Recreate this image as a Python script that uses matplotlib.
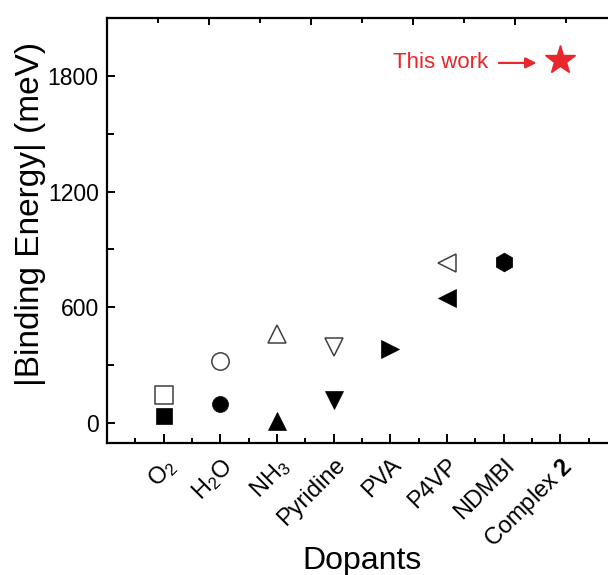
import matplotlib
matplotlib.use("Agg")
import matplotlib.pyplot as plt
from matplotlib import font_manager
from matplotlib.ticker import MultipleLocator, FixedLocator, NullFormatter

# Polices : Arial-like, version étroite pour les graduations si disponible
noms = {f.name for f in font_manager.fontManager.ttflist}
police = 'Liberation Sans'
etroite = 'Liberation Sans Narrow' in noms
police_etroite = 'Liberation Sans Narrow' if etroite else police
plt.rcParams['font.family'] = [police, 'DejaVu Sans']
plt.rcParams['mathtext.fontset'] = 'custom'
plt.rcParams['mathtext.rm'] = police
plt.rcParams['mathtext.it'] = police + ':italic'
plt.rcParams['mathtext.bf'] = police + ':bold'

# Données
dopants = ['O$_2$', 'H$_2$O', 'NH$_3$', 'Pyridine', 'PVA', 'P4VP', 'NDMBI', 'Complex $\\mathbf{2}$']
pos = list(range(1, len(dopants) + 1))

# symboles pleins (un par dopant sauf Complex 2)
plein_x = [1, 2, 3, 4, 5, 6, 7]
plein_y = [36, 99, 10, 121, 382, 646, 834]
plein_m = ['s', 'o', '^', 'v', '>', '<', 'h']
plein_ms = [12, 11.5, 12.5, 12.5, 12.5, 12.5, 13.5]

# symboles vides
vide_x = [1, 2, 3, 4, 6]
vide_y = [145, 323, 461, 395, 828]
vide_m = ['s', 'o', '^', 'v', '<']

# ce travail
etoile_x = 8
etoile_y = 1883
rouge = '#e8262b'

# %% Figure
fig = plt.figure(figsize=(6.08, 5.75), dpi=100)
ax = fig.add_axes([107/608, 1 - 443/575, (617 - 107)/608, (443 - 18)/575])

for x, y, m, ms in zip(plein_x, plein_y, plein_m, plein_ms):
    ax.plot(x, y, marker=m, ms=ms, color='black', mec='black', mew=0.5, ls='none')
for x, y, m in zip(vide_x, vide_y, vide_m):
    ax.plot(x, y, marker=m, ms=12.5, mfc='white', mec='#404040', mew=1.1, ls='none')
ax.plot(etoile_x, etoile_y, marker='*', ms=22, color=rouge, mec=rouge, ls='none')

ax.annotate('This work', xy=(etoile_x - 0.42, etoile_y - 16), xytext=(5.04, etoile_y - 16),
            color=rouge, fontsize=16, ha='left', va='center',
            arrowprops=dict(arrowstyle='-|>', color=rouge, lw=1.6, shrinkA=6, shrinkB=0,
                            mutation_scale=16))

ax.set_xlim(0, 9)
ax.set_ylim(-104, 2100)

# Axes et graduations
for s in ax.spines.values():
    s.set_linewidth(1.6)
ax.xaxis.set_major_locator(FixedLocator(pos))
ax.xaxis.set_minor_locator(MultipleLocator(0.5))
ax.yaxis.set_major_locator(MultipleLocator(600))
ax.yaxis.set_minor_locator(MultipleLocator(300))
ax.tick_params(axis='both', which='both', direction='in', width=1.4, top=False, right=False)
ax.tick_params(axis='x', which='major', length=6.5, pad=8)
ax.tick_params(axis='x', which='minor', length=3.5)
ax.tick_params(axis='y', which='major', length=5.5, pad=6)
ax.tick_params(axis='y', which='minor', length=5)
ax.set_xticklabels(dopants, rotation=45, ha='right', rotation_mode='anchor', fontsize=17)
for lab in ax.get_yticklabels():
    lab.set_fontfamily(police_etroite)
    lab.set_fontsize(20 if etroite else 16.5)

# Axe du haut (graduations seules)
ax2 = ax.twiny()
ax2.set_xlim(ax.get_xlim())
ax2.xaxis.set_major_locator(MultipleLocator(1.8))
ax2.xaxis.set_minor_locator(MultipleLocator(0.9))
ax2.xaxis.set_major_formatter(NullFormatter())
ax2.tick_params(axis='x', which='both', direction='in', width=1.4)
ax2.tick_params(axis='x', which='major', length=5)
ax2.tick_params(axis='x', which='minor', length=3.4)
for s in ax2.spines.values():
    s.set_visible(False)

fig.text(362/608, 1 - 569/575, 'Dopants', fontsize=23, ha='center', va='baseline')
fig.text(31/608, 1 - 214/575, '|Binding Energy| (meV)', fontsize=24, rotation=90,
         ha='center', va='center')

plt.savefig('out.png', dpi=100)
